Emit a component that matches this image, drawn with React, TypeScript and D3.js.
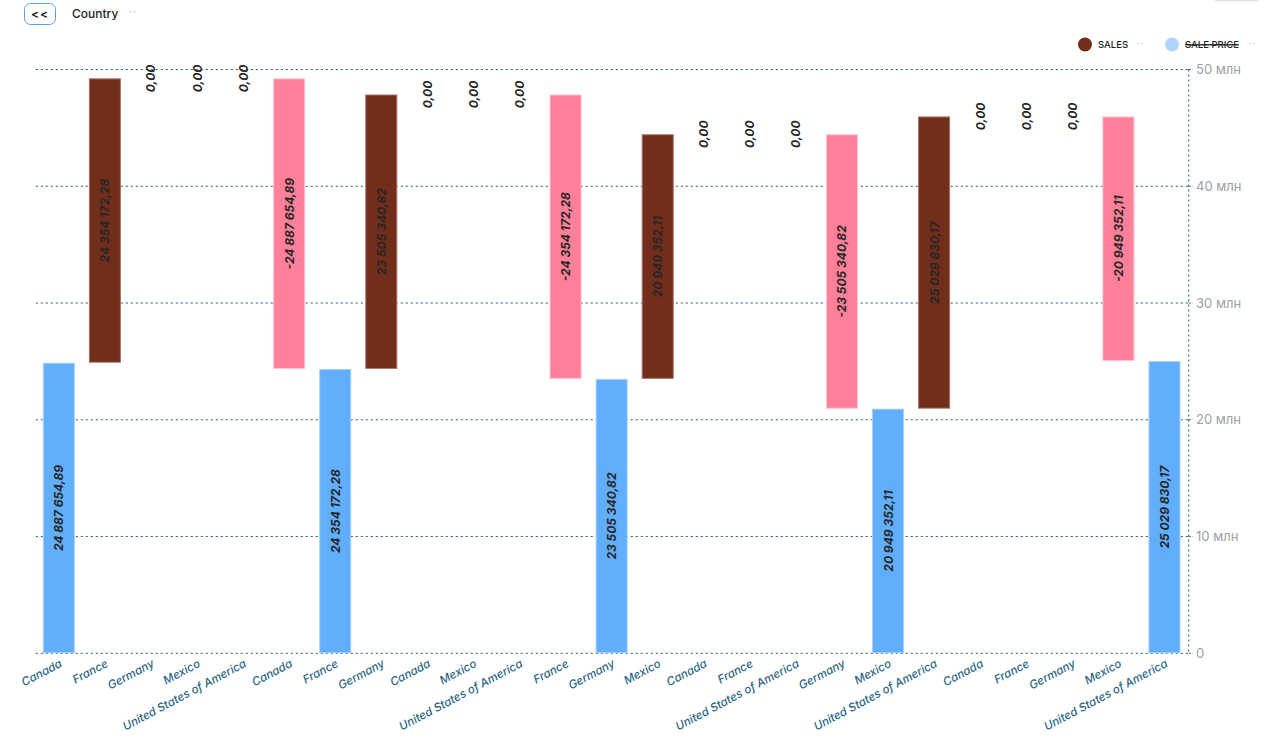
import React from "react";
import * as d3 from "d3";

const categories: string[] = [
  "Canada", "France", "Germany", "Mexico", "United States of America",
  "Canada", "France", "Germany", "Canada", "Mexico", "United States of America",
  "France", "Germany", "Mexico", "Canada", "France", "United States of America",
  "Germany", "Mexico", "United States of America", "Canada", "France", "Germany",
  "Mexico", "United States of America",
];

// "total" bars start from zero, "delta" bars float on the running sum
const kinds: string[] = [
  "total", "delta", "delta", "delta", "delta",
  "delta", "total", "delta", "delta", "delta", "delta",
  "delta", "total", "delta", "delta", "delta", "delta",
  "delta", "total", "delta", "delta", "delta", "delta",
  "delta", "total",
];

const values: number[] = [
  24887654.89, 24354172.28, 0, 0, 0,
  -24887654.89, 24354172.28, 23505340.82, 0, 0, 0,
  -24354172.28, 23505340.82, 20949352.11, 0, 0, 0,
  -23505340.82, 20949352.11, 25029830.17, 0, 0, 0,
  -20949352.11, 25029830.17,
];

const yTicks: number[] = [0, 10e6, 20e6, 30e6, 40e6, 50e6];
const yTickLabels: string[] = ["0", "10 млн", "20 млн", "30 млн", "40 млн", "50 млн"];

const legendNames: string[] = ["SALES", "SALE PRICE"];

const COLORS = {
  total: "#60aefc",
  totalStroke: "#a9d2fb",
  inc: "#722e1a",
  incStroke: "#a5766a",
  dec: "#ff8098",
  decStroke: "#ffc3cf",
  grid: "#1f5b6e",
  axisText: "#9aa0a8",
  xText: "#2c6683",
  label: "#262626",
};

const W = 1267;
const H = 744;
const FONT = "Inter, 'Noto Sans', Roboto, sans-serif";

function fmt(v: number): string {
  const sign = v < 0 ? "-" : "";
  const a = Math.abs(v);
  const [ip, dp] = a.toFixed(2).split(".");
  const grouped = ip.replace(/\B(?=(\d{3})+(?!\d))/g, " ");
  return `${sign}${grouped},${dp}`;
}

export default function App() {
  const x = d3
    .scaleBand<number>()
    .domain(d3.range(categories.length))
    .range([35.8, 1187.5])
    .paddingInner(0.304)
    .paddingOuter(0.152);
  const y = d3.scaleLinear().domain([0, 50e6]).range([653.3, 69.5]);

  let running = 0;
  const bars = values.map((v, i) => {
    let base: number;
    let top: number;
    if (kinds[i] === "total") {
      base = 0;
      top = v;
      running = v;
    } else {
      base = running;
      top = running + v;
      running = top;
    }
    return { i, v, base, top, kind: kinds[i] };
  });

  const bw = x.bandwidth();

  return (
    <svg
      width={W}
      height={H}
      style={{ position: "absolute", left: 0, top: 0, background: "#fff" }}
      fontFamily={FONT}
    >
      {/* header */}
      <rect x={24.5} y={3.5} width={31} height={21} rx={6} fill="#fff" stroke="#5b9be6" strokeWidth={1} />
      <text x={40} y={18} textAnchor="middle" fontSize={12} fontWeight={600} fill="#222" letterSpacing={1}>
        {"<<"}
      </text>
      <text x={72} y={18} fontSize={12} fontWeight={500} fill="#222">
        Country
      </text>
      <text x={129} y={15} fontSize={10} fill="#aab2bd" letterSpacing={1}>
        ··
      </text>
      <rect x={1215} y={0} width={43} height={1.5} fill="#dce3ee" />

      {/* legend */}
      <circle cx={1085} cy={44.5} r={7} fill={COLORS.inc} />
      <text x={1098} y={48} fontSize={9.5} fontWeight={500} fill="#222">
        {legendNames[0]}
      </text>
      <text x={1137} y={47} fontSize={9} fill="#aab2bd" letterSpacing={1}>
        ··
      </text>
      <circle cx={1172} cy={44.5} r={7} fill="#aed6fc" />
      <text x={1185} y={48} fontSize={9.5} fontWeight={500} fill="#222" textDecoration="line-through">
        {legendNames[1]}
      </text>
      <line x1={1185} x2={1238} y1={44.5} y2={44.5} stroke="#222" strokeWidth={0.8} />
      <text x={1249} y={47} fontSize={9} fill="#aab2bd" letterSpacing={1}>
        ··
      </text>

      {/* grid */}
      {yTicks.map((t) => (
        <line
          key={t}
          x1={35.8}
          x2={1189}
          y1={y(t)}
          y2={y(t)}
          stroke={COLORS.grid}
          strokeWidth={1}
          strokeDasharray="2,3"
        />
      ))}
      <line x1={1188.7} x2={1188.7} y1={y(50e6)} y2={y(0)} stroke={COLORS.grid} strokeWidth={1} strokeDasharray="2,3" />
      {yTicks.map((t, k) => (
        <g key={"yl" + t}>
          <line x1={1188.7} x2={1193} y1={y(t)} y2={y(t)} stroke={COLORS.grid} strokeDasharray="2,2" />
          <text x={1196} y={y(t) + 4.5} fontSize={13} fill={COLORS.axisText}>
            {yTickLabels[k]}
          </text>
        </g>
      ))}

      {/* bars */}
      {bars.map((b) => {
        if (b.v === 0) return null;
        const fill = b.kind === "total" ? COLORS.total : b.v > 0 ? COLORS.inc : COLORS.dec;
        const stroke = b.kind === "total" ? COLORS.totalStroke : b.v > 0 ? COLORS.incStroke : COLORS.decStroke;
        const y0 = y(Math.max(b.base, b.top));
        const y1 = y(Math.min(b.base, b.top));
        return (
          <rect
            key={"b" + b.i}
            x={(x(b.i) as number) + 0.5}
            y={y0 + 0.5}
            width={bw - 1}
            height={y1 - y0 - 1}
            fill={fill}
            stroke={stroke}
            strokeWidth={1}
          />
        );
      })}

      {/* bar labels */}
      {bars.map((b) => {
        const cx = (x(b.i) as number) + bw / 2;
        const cy = y((b.base + b.top) / 2);
        return (
          <text
            key={"l" + b.i}
            transform={`translate(${cx + 4.5},${cy}) rotate(-90)`}
            textAnchor="middle"
            fontSize={12}
            fontWeight={700}
            fontStyle="italic"
            fill={COLORS.label}
          >
            {fmt(b.v)}
          </text>
        );
      })}

      {/* x axis labels */}
      {categories.map((c, i) => {
        const cx = (x(i) as number) + bw / 2;
        return (
          <text
            key={"x" + i}
            transform={`translate(${cx + 4},${666}) rotate(-28)`}
            textAnchor="end"
            fontSize={11.5}
            fontStyle="italic"
            fontWeight={500}
            fill={COLORS.xText}
          >
            {c}
          </text>
        );
      })}
    </svg>
  );
}
